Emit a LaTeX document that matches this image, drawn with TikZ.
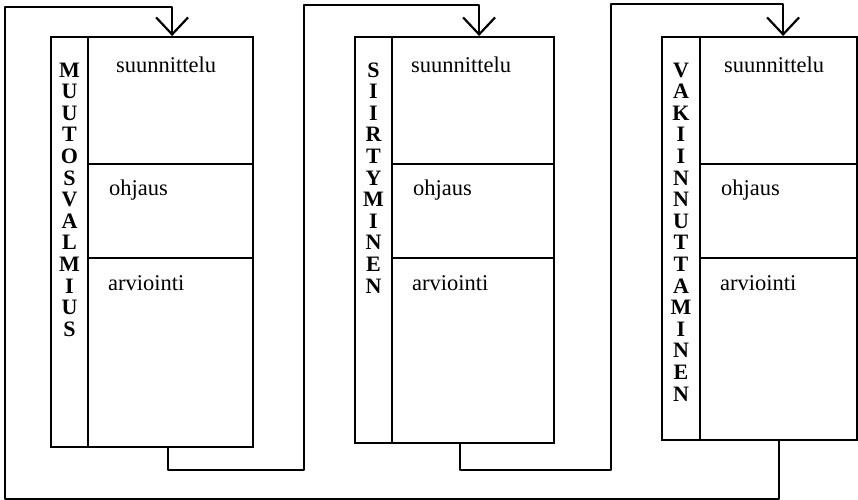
\documentclass[tikz,border=0pt]{standalone}
\usepackage{fontspec}
\setmainfont{Liberation Serif}
\usetikzlibrary{arrows.meta}

% One stage: a lettered side column and three stacked sections.
% #1 id, #2 left x, #3 column right x, #4 right x, #5 bottom y,
% #6 letters of the side word, #7 indent of the first section label
\newcommand\drawstage[7]{%
  \node[frame, minimum width={#3pt-#2pt}, minimum height={#5pt-36pt}] (#1col) at (#2,36) {};
  \node[frame, minimum width={#4pt-#3pt}, minimum height=127pt] (#1a) at (#3,36) {};
  \node[frame, minimum width={#4pt-#3pt}, minimum height=94pt] (#1b) at (#3,163) {};
  \node[frame, minimum width={#4pt-#3pt}, minimum height={#5pt-257pt}] (#1c) at (#3,257) {};
  \node[word] (#1ta) at (#3+#7, 72) {suunnittelu};
  \node[word] (#1tb) at (#3+21, 195) {ohjaus};
  \node[word] (#1tc) at (#3+20, 290) {arviointi};
  \foreach \ch [count=\i from 0] in {#6}
    \node[letter] (#1l\i) at ({(#2+#3)/2+1}, {77+21.6*\i}) {\ch};
}

\begin{document}
\begin{tikzpicture}[x=1pt, y=-1pt, line width=2.2pt,
  frame/.style={draw, rectangle, inner sep=0pt, anchor=north west},
  word/.style={anchor=base west, inner sep=0pt, font=\fontsize{22.5}{26}\selectfont},
  letter/.style={anchor=base, inner sep=0pt, font=\bfseries\fontsize{22}{24}\selectfont},
  flow/.style={line cap=round, line join=round},
  into/.style={flow, -{Straight Barb[length=17pt, width=32pt, line width=2.2pt]}}]

\useasboundingbox (0,0) rectangle (858,499);

\drawstage{m}{50}{87}{252}{446}{M,U,U,T,O,S,V,A,L,M,I,U,S}{28}
\drawstage{s}{354}{391}{553}{442}{S,I,I,R,T,Y,M,I,N,E,N}{19}
\drawstage{v}{661}{699}{856}{439}{V,A,K,I,I,N,N,U,T,T,A,M,I,N,E,N}{24}

% feedback loops from each stage into the next one
\draw[into] ([xshift=-3pt]mc.south) -- ++(0,22) -| (304,5) -| ([xshift=6pt]sa.north);
\draw[into] ([xshift=-13pt]sc.south) -- ++(0,26) -| (611,4) -| ([xshift=4.5pt]va.north);
\draw[into] (vc.south) -- ++(0,58) -| (5,7) -| ([xshift=1.5pt]ma.north);
\end{tikzpicture}
\end{document}
